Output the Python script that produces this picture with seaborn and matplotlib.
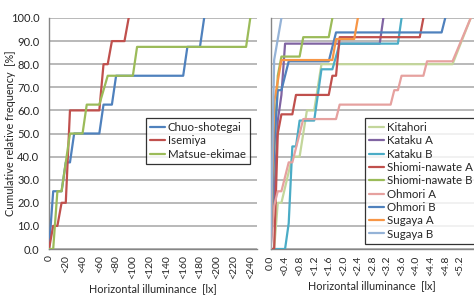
import matplotlib
matplotlib.use('Agg')
import matplotlib.pyplot as plt
from matplotlib.ticker import MultipleLocator, FormatStrFormatter
import seaborn as sns
import pandas as pd
import numpy as np

# ---- data: left panel (lx) ----
chuo_x = [0, 5, 15, 20, 25, 30, 60, 65, 75, 80, 160, 165, 180, 185]
chuo_y = [0, 25, 25, 37.5, 37.5, 50, 50, 62.5, 62.5, 75, 75, 87.5, 87.5, 100]
isemiya_x = [0, 5, 10, 15, 20, 25, 60, 65, 70, 75, 90, 95]
isemiya_y = [0, 10, 10, 20, 20, 60, 60, 80, 80, 90, 90, 100]
matsue_x = [0, 5, 10, 15, 25, 40, 45, 60, 70, 100, 105, 235, 240]
matsue_y = [0, 0, 25, 25, 50, 50, 62.5, 62.5, 75, 75, 87.5, 87.5, 100]

# ---- data: right panel (lx) ----
kitahori_x = [0, 0.1, 0.2, 0.3, 0.6, 0.8, 1.0, 1.2, 1.4, 5.0, 5.5]
kitahori_y = [0, 0, 20, 20, 40, 40, 60, 60, 80, 80, 100]
katakuA_x = [0, 0.1, 0.2, 0.3, 0.4, 3.0, 3.1]
katakuA_y = [0, 22.2, 55.6, 66.7, 88.9, 88.9, 100]
katakuB_x = [0, 0.4, 0.5, 0.6, 0.7, 0.8, 1.2, 1.3, 1.4, 1.7, 1.9, 3.5, 3.6]
katakuB_y = [0, 0, 11.1, 44.4, 44.4, 55.6, 55.6, 66.7, 77.8, 77.8, 88.9, 88.9, 100]
shiomiA_x = [0, 0.1, 0.2, 0.3, 0.6, 0.7, 1.6, 1.7, 1.8, 1.9, 4.1, 4.2]
shiomiA_y = [0, 0, 50, 58.3, 58.3, 66.7, 66.7, 75, 75, 91.7, 91.7, 100]
shiomiB_x = [0, 0.1, 0.2, 0.3, 0.8, 0.9, 1.6, 1.7]
shiomiB_y = [0, 41.7, 75, 83.3, 83.3, 91.7, 91.7, 100]
ohmoriA_x = [0, 0.1, 0.2, 0.3, 0.5, 0.6, 0.9, 1.8, 1.9, 3.3, 3.4, 3.5, 3.6, 4.2, 4.3, 5.0, 5.5]
ohmoriA_y = [0, 18.75, 25, 25, 37.5, 37.5, 56.25, 56.25, 62.5, 62.5, 68.75, 68.75, 75, 75, 81.25, 81.25, 100]
ohmoriB_x = [0, 0.1, 0.2, 0.3, 0.5, 1.6, 1.8, 4.7, 4.8]
ohmoriB_y = [0, 43.75, 68.75, 68.75, 81.25, 81.25, 93.75, 93.75, 100]
sugayaA_x = [0, 0.1, 0.3, 1.7, 1.8, 2.3, 2.4]
sugayaA_y = [0, 63.6, 81.8, 81.8, 90.9, 90.9, 100]
sugayaB_x = [0, 0.1, 0.3]
sugayaB_y = [0, 81.8, 100]

left_series = [('Chuo-shotegai', chuo_x, chuo_y, '#4F81BD'),
               ('Isemiya', isemiya_x, isemiya_y, '#C0504D'),
               ('Matsue-ekimae', matsue_x, matsue_y, '#9BBB59')]
right_series = [('Kitahori', kitahori_x, kitahori_y, '#C3D69B'),
                ('Kataku A', katakuA_x, katakuA_y, '#8064A2'),
                ('Kataku B', katakuB_x, katakuB_y, '#4BACC6'),
                ('Shiomi-nawate A', shiomiA_x, shiomiA_y, '#C0504D'),
                ('Shiomi-nawate B', shiomiB_x, shiomiB_y, '#9BBB59'),
                ('Ohmori A', ohmoriA_x, ohmoriA_y, '#E6A19F'),
                ('Ohmori B', ohmoriB_x, ohmoriB_y, '#4F81BD'),
                ('Sugaya A', sugayaA_x, sugayaA_y, '#F79646'),
                ('Sugaya B', sugayaB_x, sugayaB_y, '#95B3D7')]


def to_frame(series):
    rows = []
    for name, xs, ys, _ in series:
        for x, y in zip(xs, ys):
            rows.append({'x': x, 'y': y, 'site': name})
    return pd.DataFrame(rows)


sns.set_style('white')
plt.rcParams['font.family'] = ['Lato', 'DejaVu Sans']
plt.rcParams['font.size'] = 7.5

grid_c = '#A6A6A6'
axis_c = '#868686'

fig = plt.figure(figsize=(4.74, 2.97), dpi=100)
ax1 = fig.add_axes([49 / 474, 48 / 297, 208 / 474, 231 / 297])
ax2 = fig.add_axes([270.5 / 474, 48 / 297, 203.5 / 474, 231 / 297])

for ax, series in [(ax1, left_series), (ax2, right_series)]:
    df = to_frame(series)
    pal = {n: c for n, _, _, c in series}
    sns.lineplot(data=df, x='x', y='y', hue='site', palette=pal, estimator=None,
                 sort=False, lw=1.6, ax=ax, zorder=3)
    ax.set_ylim(0, 100)
    ax.yaxis.set_major_locator(MultipleLocator(10))
    ax.grid(axis='y', color=grid_c, lw=1.1, zorder=0)
    ax.set_axisbelow(True)
    for s in ['top', 'right']:
        ax.spines[s].set_visible(False)
    for s in ['left', 'bottom']:
        ax.spines[s].set_color(axis_c)
        ax.spines[s].set_linewidth(1.0)
    ax.tick_params(axis='y', which='major', length=5, color=axis_c, direction='out',
                   pad=2, labelsize=8)
    ax.tick_params(axis='x', which='both', length=3, color=axis_c, direction='out', pad=1.5)
    ax.tick_params(axis='x', which='major', labelrotation=90, labelsize=7.5)
    ax.set_xlabel('Horizontal illuminance  [lx]', fontsize=7.8, labelpad=3)
    ax.set_ylabel('')
    leg = ax.legend(loc='upper left', bbox_to_anchor=(0.465, 0.567), frameon=True,
                    fancybox=False, edgecolor='black', fontsize=8.3, handlelength=1.3,
                    handletextpad=0.25, labelspacing=0.2, borderpad=0.35, borderaxespad=0)
    leg.get_frame().set_linewidth(0.9)

# left axis
ax1.set_xlim(0, 248)
left_ticks = np.arange(0, 241, 20)
ax1.set_xticks(left_ticks)
ax1.set_xticklabels(['0'] + ['<%d' % t for t in left_ticks[1:]])
ax1.xaxis.set_minor_locator(MultipleLocator(5))
ax1.yaxis.set_major_formatter(FormatStrFormatter('%.1f'))
ax1.set_ylabel('Cumulative relative frequency  [%]', fontsize=7.8)
ax1.yaxis.set_label_coords(-0.16, 0.5)

# right axis
ax2.set_xlim(0, 5.59)
right_ticks = np.round(np.arange(0, 5.21, 0.4), 1)
ax2.set_xticks(right_ticks)
ax2.set_xticklabels(['0.0'] + ['<%.1f' % t for t in right_ticks[1:]])
ax2.xaxis.set_minor_locator(MultipleLocator(0.1))
ax2.set_yticklabels([])

fig.savefig('out.png', dpi=100)
